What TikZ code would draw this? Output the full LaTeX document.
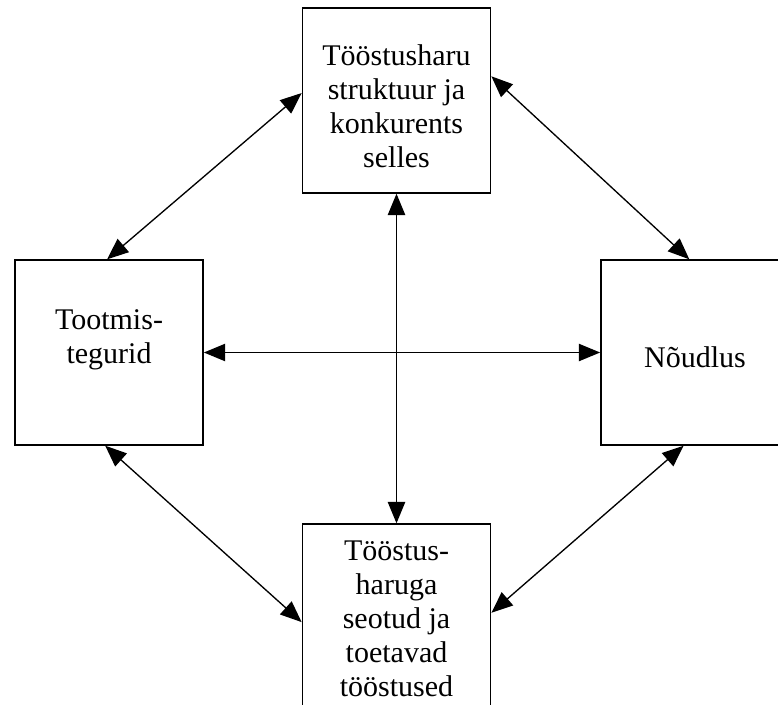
\documentclass[tikz,border=0pt]{standalone}
\usepackage{fontspec}
\setmainfont{Liberation Serif}
\usetikzlibrary{positioning,calc,arrows.meta}

\tikzset{
  factor/.style={draw, rectangle, line width=1.3pt, minimum width=141pt, minimum height=138.5pt, inner sep=0pt},
  factortext/.style={align=center, font=\fontsize{22.5}{25.5}\selectfont},
  link/.style={{Triangle[length=16pt,width=13pt]}-{Triangle[length=16pt,width=13pt]}, line width=1pt}
}

\begin{document}
\begin{tikzpicture}[x=0.75pt, y=-0.75pt]
    \path[use as bounding box, clip] (0,0) rectangle (778,704);

    % the four boxes
    \node [factor] (ind) at (396.5,100.5) {};
    \node [factor] (inp) at (109,352.5) {};
    \node [factor] (dem) at (695,352.5) {};
    \node [factor] (rel) at (396.5,616.5) {};

    \node [factortext] (indtext) at (396.5,106) {Tööstusharu\\struktuur ja\\konkurents\\selles};
    \node [factortext] (inptext) at (109,340) {Tootmis-\\tegurid};
    \node [factortext] (demtext) at (695,357) {Nõudlus};
    \node [factortext] (reltext) at (396.5,619) {Tööstus-\\haruga\\seotud ja\\toetavad\\tööstused};

    % connections
    \draw [link] ($(ind.north west)!0.46!(ind.south west)$) -- ($(inp.north west)!0.49!(inp.north east)$);
    \draw [link] ($(ind.north east)!0.37!(ind.south east)$) -- ($(dem.north west)!0.47!(dem.north east)$);
    \draw [link] (inp.east) -- (dem.west);
    \draw [link] (ind.south) -- (rel.north);
    \draw [link] ($(inp.south west)!0.48!(inp.south east)$) -- ($(rel.north west)!0.53!(rel.south west)$);
    \draw [link] ($(dem.south west)!0.44!(dem.south east)$) -- ($(rel.north east)!0.48!(rel.south east)$);
\end{tikzpicture}
\end{document}
